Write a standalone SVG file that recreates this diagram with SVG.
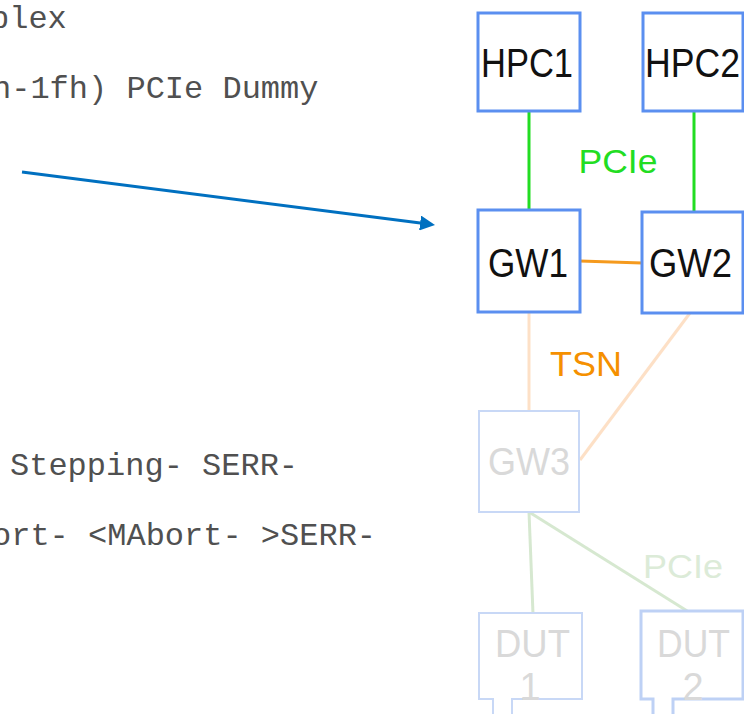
<svg xmlns="http://www.w3.org/2000/svg" width="744" height="714" viewBox="0 0 744 714">
<defs>
<style>
.code{font-family:"Liberation Mono","Courier New",monospace;font-size:32px;fill:#505050}
.lbl{font-family:"Liberation Sans",Arial,sans-serif;text-anchor:middle}
.box{fill:#ffffff;stroke:#5b8ff0;stroke-width:3}
.fbox{fill:#ffffff;stroke:#c8d8f6;stroke-width:2}
.dark{fill:#111111;font-size:40px}
.faint{fill:#d9d9d9;font-size:38px}
</style>
<marker id="ah" markerWidth="5" markerHeight="5" refX="4" refY="2.5" orient="auto" markerUnits="strokeWidth">
<path d="M0,0 L5,2.5 L0,5 z" fill="#0070c0"/>
</marker>
</defs>
<rect width="744" height="714" fill="#ffffff"/>
<g id="code-text">
<text class="code" x="-10" y="28">plex</text>
<text class="code" x="-8" y="98">h-1fh) PCIe Dummy</text>
<text class="code" x="10" y="475">Stepping- SERR-</text>
<text class="code" x="-8" y="545">ort- &lt;MAbort- &gt;SERR-</text>
</g>
<g id="connectors" fill="none">
<line x1="22" y1="172" x2="432" y2="224.5" stroke="#0070c0" stroke-width="3" marker-end="url(#ah)"/>
<line x1="529" y1="111" x2="529" y2="210" stroke="#22dd22" stroke-width="3"/>
<line x1="694" y1="111" x2="694" y2="212" stroke="#22dd22" stroke-width="3"/>
<line x1="580" y1="261" x2="642" y2="263" stroke="#f59a1e" stroke-width="3"/>
<line x1="529" y1="312" x2="529" y2="411" stroke="#fde0c6" stroke-width="3"/>
<line x1="690" y1="313" x2="580" y2="460" stroke="#fde0c6" stroke-width="3"/>
<line x1="529" y1="512" x2="533" y2="614" stroke="#d6e8d0" stroke-width="3"/>
<line x1="529" y1="512" x2="692" y2="614" stroke="#d6e8d0" stroke-width="3"/>
</g>
<g id="label-pcie-top"><text class="lbl" x="618" y="173" font-size="34" fill="#22dd22" textLength="79" lengthAdjust="spacingAndGlyphs">PCIe</text></g>
<g id="label-tsn"><text class="lbl" x="586" y="376" font-size="35" fill="#f59000" textLength="72" lengthAdjust="spacingAndGlyphs">TSN</text></g>
<g id="label-pcie-bottom"><text class="lbl" x="683" y="578" font-size="34" fill="#dcebd8" textLength="80" lengthAdjust="spacingAndGlyphs">PCIe</text></g>
<g id="HPC1">
<rect class="box" x="478" y="13" width="102" height="98"/>
<text class="lbl dark" x="527" y="77" textLength="92" lengthAdjust="spacingAndGlyphs">HPC1</text>
</g>
<g id="HPC2">
<rect class="box" x="643" y="13" width="100" height="98"/>
<text class="lbl dark" x="692.5" y="77" textLength="95" lengthAdjust="spacingAndGlyphs">HPC2</text>
</g>
<g id="GW1">
<rect class="box" x="478" y="210" width="102" height="102"/>
<text class="lbl dark" x="528" y="277" textLength="80" lengthAdjust="spacingAndGlyphs">GW1</text>
</g>
<g id="GW2">
<rect class="box" x="642" y="212" width="101" height="101"/>
<text class="lbl dark" x="690.5" y="277" textLength="83" lengthAdjust="spacingAndGlyphs">GW2</text>
</g>
<g id="GW3">
<rect class="fbox" x="479" y="411" width="100" height="101"/>
<text class="lbl faint" x="529" y="475" textLength="82" lengthAdjust="spacingAndGlyphs">GW3</text>
</g>
<g id="DUT1">
<path class="fbox" d="M479,613 H582 V699 H512 V716 H493 V699 H479 Z"/>
<text class="lbl faint" x="532.5" y="657" textLength="75" lengthAdjust="spacingAndGlyphs">DUT</text>
<text class="lbl faint" x="530" y="700">1</text>
</g>
<g id="DUT2">
<path d="M641,611 H743 V699 H673 V716 H653 V699 H641 Z" fill="#ffffff" stroke="#bed1f5" stroke-width="3"/>
<text class="lbl faint" x="693.5" y="657" textLength="73" lengthAdjust="spacingAndGlyphs">DUT</text>
<text class="lbl faint" x="693" y="700">2</text>
</g>
</svg>
